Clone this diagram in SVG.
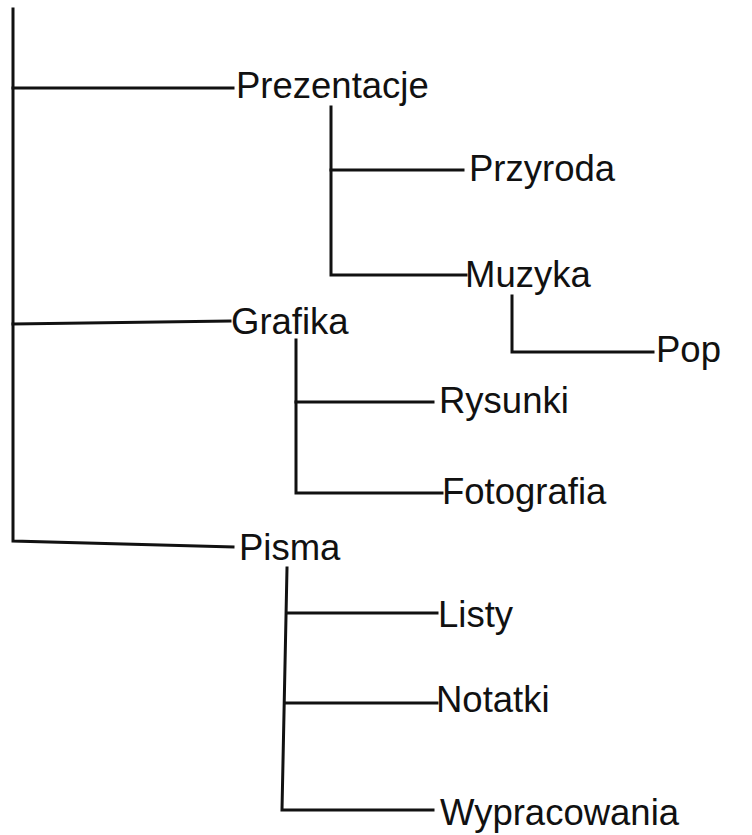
<svg xmlns="http://www.w3.org/2000/svg" width="752" height="835" viewBox="0 0 752 835">
  <style>
    .edge { fill: none; stroke: #111; stroke-width: 3; stroke-linecap: square; stroke-linejoin: miter; }
    .label { font-family: "Liberation Sans", Arial, sans-serif; font-size: 36.5px; fill: #111; }
  </style>
  <rect width="752" height="835" fill="#fff"/>

  <!-- tree connectors -->
  <g id="connectors">
    <!-- root trunk -->
    <path class="edge" d="M13 9 V541 L233 547"/>
    <path class="edge" d="M13 88 H233"/>
    <path class="edge" d="M13 324 L230 321"/>
    <!-- Prezentacje children -->
    <path class="edge" d="M331 107 V275 H466"/>
    <path class="edge" d="M331 170 H463"/>
    <!-- Muzyka child -->
    <path class="edge" d="M512 296 V352 H653"/>
    <!-- Grafika children -->
    <path class="edge" d="M296 340 V493 H442"/>
    <path class="edge" d="M296 402 H433"/>
    <!-- Pisma children -->
    <path class="edge" d="M287 568 L282 810 H433"/>
    <path class="edge" d="M287 613 H437"/>
    <path class="edge" d="M285 703 H437"/>
  </g>

  <g id="prezentacje"><text class="label" x="236" y="98">Prezentacje</text></g>
  <g id="przyroda"><text class="label" x="469" y="181">Przyroda</text></g>
  <g id="muzyka"><text class="label" x="465" y="287">Muzyka</text></g>
  <g id="pop"><text class="label" x="656" y="362">Pop</text></g>
  <g id="grafika"><text class="label" x="231" y="334">Grafika</text></g>
  <g id="rysunki"><text class="label" x="439" y="413">Rysunki</text></g>
  <g id="fotografia"><text class="label" x="442" y="504">Fotografia</text></g>
  <g id="pisma"><text class="label" x="239" y="560">Pisma</text></g>
  <g id="listy"><text class="label" x="438" y="627">Listy</text></g>
  <g id="notatki"><text class="label" x="436" y="712">Notatki</text></g>
  <g id="wypracowania"><text class="label" x="440" y="825">Wypracowania</text></g>
</svg>
